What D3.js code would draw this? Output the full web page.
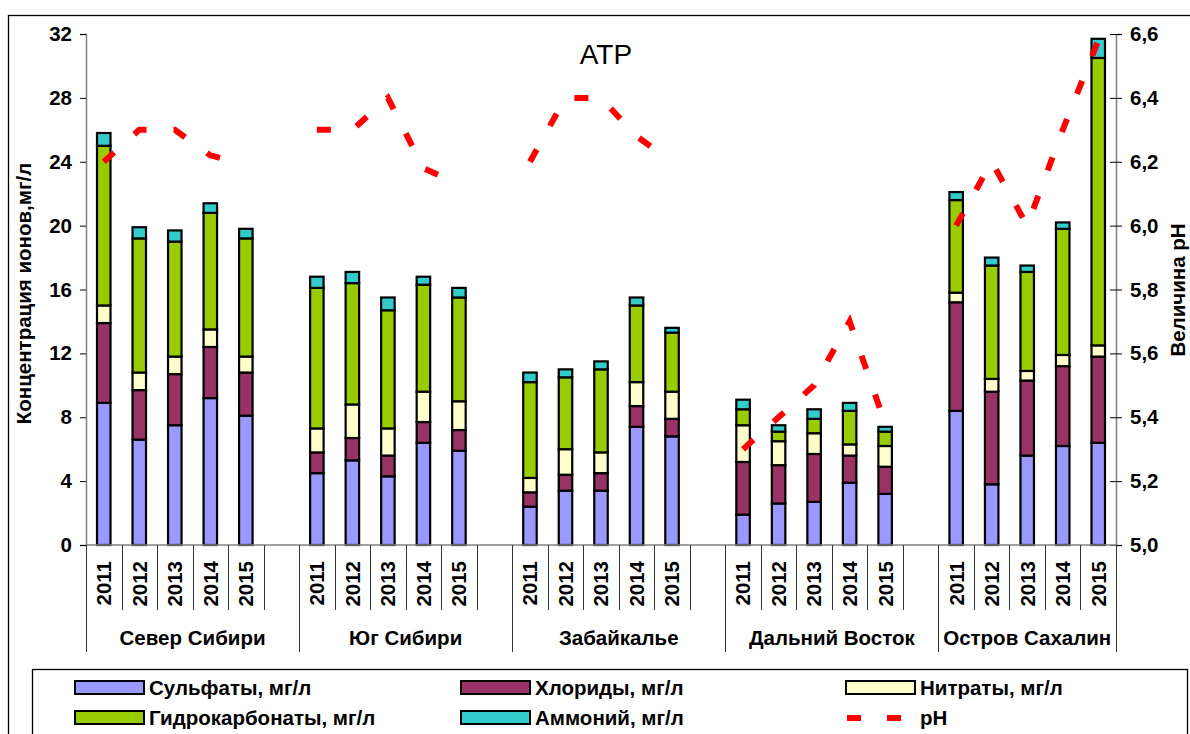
<!DOCTYPE html>
<html>
<head>
<meta charset="utf-8">
<script src="https://cdn.jsdelivr.net/npm/d3@7"></script>
<style>
  html, body { margin: 0; padding: 0; background: #fff; }
  svg { display: block; }
  text { font-family: "Liberation Sans", Arial, sans-serif; }
</style>
</head>
<body>
<svg id="chart" width="1190" height="734"></svg>
<script>
// ---------- data ----------
const title = "АТР";
const groups = ["Север Сибири", "Юг Сибири", "Забайкалье", "Дальний Восток", "Остров Сахалин"];
const years = ["2011", "2012", "2013", "2014", "2015"];

// values per group, per year (mg/l)
const sulfates = [
  8.9, 6.6, 7.5, 9.2, 8.1,
  4.5, 5.3, 4.3, 6.4, 5.9,
  2.4, 3.4, 3.4, 7.4, 6.8,
  1.9, 2.6, 2.7, 3.9, 3.2,
  8.4, 3.8, 5.6, 6.2, 6.4
];
const chlorides = [
  5.0, 3.1, 3.2, 3.2, 2.7,
  1.3, 1.4, 1.3, 1.3, 1.3,
  0.9, 1.0, 1.1, 1.3, 1.1,
  3.3, 2.4, 3.0, 1.7, 1.7,
  6.8, 5.8, 4.7, 5.0, 5.4
];
const nitrates = [
  1.1, 1.1, 1.1, 1.1, 1.0,
  1.5, 2.1, 1.7, 1.9, 1.8,
  0.9, 1.6, 1.3, 1.5, 1.7,
  2.3, 1.5, 1.3, 0.7, 1.3,
  0.6, 0.8, 0.6, 0.7, 0.7
];
const hydrocarbonates = [
  10.0, 8.4, 7.2, 7.3, 7.4,
  8.8, 7.6, 7.4, 6.7, 6.5,
  6.0, 4.5, 5.2, 4.8, 3.7,
  1.0, 0.6, 0.9, 2.1, 0.9,
  5.8, 7.1, 6.2, 7.9, 18.0
];
const ammonium = [
  0.8, 0.7, 0.7, 0.6, 0.6,
  0.7, 0.7, 0.8, 0.5, 0.6,
  0.6, 0.5, 0.5, 0.5, 0.3,
  0.6, 0.4, 0.6, 0.5, 0.3,
  0.5, 0.5, 0.4, 0.4, 1.2
];
const ph = [
  6.20, 6.30, 6.30, 6.22, 6.19,
  6.30, 6.30, 6.40, 6.18, 6.13,
  6.20, 6.40, 6.40, 6.28, 6.20,
  5.30, 5.40, 5.50, 5.70, 5.38,
  6.00, 6.20, 6.00, 6.30, 6.58
];

const leftTicks = [0, 4, 8, 12, 16, 20, 24, 28, 32];
const rightTicks = [5.0, 5.2, 5.4, 5.6, 5.8, 6.0, 6.2, 6.4, 6.6];
const leftTitle = "Концентрация ионов,мг/л";
const rightTitle = "Величина рН";

const seriesKeys = ["sulfates", "chlorides", "nitrates", "hydrocarbonates", "ammonium"];
const seriesNames = ["Сульфаты, мг/л", "Хлориды, мг/л", "Нитраты, мг/л", "Гидрокарбонаты, мг/л", "Аммоний, мг/л"];
const seriesColors = ["#9999FF", "#993366", "#FFFFCC", "#99CC00", "#33CCCC"];
const phName = "рН";

// ---------- build slots ----------
const seriesArrays = [sulfates, chlorides, nitrates, hydrocarbonates, ammonium];
const slots = [];
const rows = [];
groups.forEach((g, gi) => {
  years.forEach((yr, yi) => {
    const idx = gi * years.length + yi;
    const key = g + "|" + yr;
    slots.push(key);
    const r = { key, group: g, year: yr, gi, ph: ph[idx] };
    seriesKeys.forEach((k, si) => r[k] = seriesArrays[si][idx]);
    rows.push(r);
  });
  if (gi < groups.length - 1) slots.push(g + "|blank");
});

// ---------- layout ----------
const W = 1190, H = 734;
const plotL = 86, plotR = 1116, plotT = 34, plotB = 545;
const FONT = 20.5;

const svg = d3.select("#chart");

const x = d3.scaleBand().domain(slots).range([plotL, plotR]).padding(0);
const y = d3.scaleLinear().domain([0, 32]).range([plotB, plotT]);
const y2 = d3.scaleLinear().domain([5.0, 6.6]).range([plotB, plotT]);

// chart area border
svg.append("rect")
  .attr("x", 8.5).attr("y", 15.5).attr("width", W + 20).attr("height", H + 20)
  .attr("fill", "none").attr("stroke", "#000").attr("stroke-width", 1.3);

// ---------- bars ----------
const stack = d3.stack().keys(seriesKeys);
const stacked = stack(rows);
const barW = 13.5;

const barG = svg.append("g");
stacked.forEach((layer, li) => {
  barG.append("g")
    .selectAll("rect")
    .data(layer)
    .join("rect")
    .attr("x", d => x(d.data.key) + x.bandwidth() / 2 - barW / 2)
    .attr("y", d => y(d[1]))
    .attr("width", barW)
    .attr("height", d => y(d[0]) - y(d[1]))
    .attr("fill", seriesColors[li])
    .attr("stroke", "#000")
    .attr("stroke-width", 2.2);
});

// ---------- pH line ----------
const line = d3.line()
  .x(d => x(d.key) + x.bandwidth() / 2)
  .y(d => y2(d.ph));
groups.forEach(g => {
  svg.append("path")
    .datum(rows.filter(r => r.group === g))
    .attr("d", line)
    .attr("fill", "none")
    .attr("stroke", "#FF0000")
    .attr("stroke-width", 6)
    .attr("stroke-dasharray", "14 27")
    .attr("stroke-linecap", "butt")
    .attr("stroke-linejoin", "miter");
});

// ---------- axes ----------
const fmtComma = d => d3.format(".1f")(d).replace(".", ",");

const axL = svg.append("g")
  .attr("transform", `translate(${plotL},0)`)
  .call(d3.axisLeft(y).tickValues(leftTicks).tickSize(6).tickPadding(8).tickFormat(d3.format("d")));
axL.select(".domain").attr("stroke", "#808080").attr("stroke-width", 1.5);
axL.selectAll(".tick line").attr("stroke", "#000").attr("stroke-width", 1);
axL.selectAll(".tick text")
  .attr("font-size", FONT).attr("font-weight", "bold").attr("fill", "#000")
  .style("font-family", '"Liberation Sans", Arial, sans-serif');

const axR = svg.append("g")
  .attr("transform", `translate(${plotR},0)`)
  .call(d3.axisRight(y2).tickValues(rightTicks).tickSize(6).tickPadding(8).tickFormat(fmtComma));
axR.select(".domain").attr("stroke", "#808080").attr("stroke-width", 1.5);
axR.selectAll(".tick line").attr("x1", -6).attr("x2", 6).attr("stroke", "#000").attr("stroke-width", 1);
axR.selectAll(".tick text")
  .attr("font-size", FONT).attr("font-weight", "bold").attr("fill", "#000")
  .style("font-family", '"Liberation Sans", Arial, sans-serif');

// category axis baseline
svg.append("line")
  .attr("x1", plotL).attr("x2", plotR).attr("y1", plotB).attr("y2", plotB)
  .attr("stroke", "#808080").attr("stroke-width", 1.5);

// separators between slots
const boundaries = slots.map(s => x(s)).concat([plotR]);
boundaries.forEach((bx, i) => {
  const long = (i % 6 === 0) || i === boundaries.length - 1;
  svg.append("line")
    .attr("x1", Math.round(bx) + 0.5).attr("x2", Math.round(bx) + 0.5)
    .attr("y1", plotB).attr("y2", long ? 652 : 610)
    .attr("stroke", "#333").attr("stroke-width", 1);
});

// year labels
svg.append("g").selectAll("text")
  .data(rows)
  .join("text")
  .attr("transform", d => `translate(${x(d.key) + x.bandwidth() / 2},561) rotate(-90)`)
  .attr("text-anchor", "end")
  .attr("dy", "0.36em")
  .attr("font-size", FONT).attr("font-weight", "bold")
  .text(d => d.year);

// group labels
svg.append("g").selectAll("text")
  .data(groups)
  .join("text")
  .attr("x", (g, gi) => {
    const x0 = x(g + "|" + years[0]);
    const x1 = gi < groups.length - 1 ? x(groups[gi + 1] + "|" + years[0]) : plotR;
    return (x0 + x1) / 2;
  })
  .attr("y", 645)
  .attr("text-anchor", "middle")
  .attr("font-size", FONT).attr("font-weight", "bold")
  .text(d => d);

// axis titles
svg.append("text")
  .attr("transform", `translate(31,${(plotT + plotB) / 2 + 4}) rotate(-90)`)
  .attr("text-anchor", "middle")
  .attr("font-size", FONT).attr("font-weight", "bold")
  .text(leftTitle);

svg.append("text")
  .attr("transform", `translate(1185,290) rotate(-90)`)
  .attr("text-anchor", "middle")
  .attr("font-size", FONT).attr("font-weight", "bold")
  .text(rightTitle);

// title
svg.append("text")
  .attr("x", 606).attr("y", 64)
  .attr("text-anchor", "middle")
  .attr("font-size", 28)
  .text(title);

// ---------- legend ----------
const leg = svg.append("g");
leg.append("rect")
  .attr("x", 32.5).attr("y", 669.5).attr("width", 1155).attr("height", 100)
  .attr("fill", "none").attr("stroke", "#000").attr("stroke-width", 1.3);

const colX = [75, 461, 846];
const rowY = [688, 718];
const legendItems = seriesNames.map((n, i) => ({ name: n, color: seriesColors[i], type: "rect" }))
  .concat([{ name: phName, color: "#FF0000", type: "line" }]);
legendItems.forEach((it, i) => {
  const cx = colX[i % 3], cy = rowY[Math.floor(i / 3)];
  if (it.type === "rect") {
    leg.append("rect")
      .attr("x", cx).attr("y", cy - 7).attr("width", 69).attr("height", 13)
      .attr("fill", it.color).attr("stroke", "#000").attr("stroke-width", 2);
  } else {
    leg.append("line")
      .attr("x1", cx).attr("x2", cx + 69).attr("y1", cy).attr("y2", cy)
      .attr("stroke", it.color).attr("stroke-width", 6)
      .attr("stroke-dasharray", "0 1 14 26 14 30");
  }
  leg.append("text")
    .attr("x", cx + 74).attr("y", cy + 7)
    .attr("font-size", FONT).attr("font-weight", "bold")
    .text(it.name);
});
</script>
</body>
</html>
